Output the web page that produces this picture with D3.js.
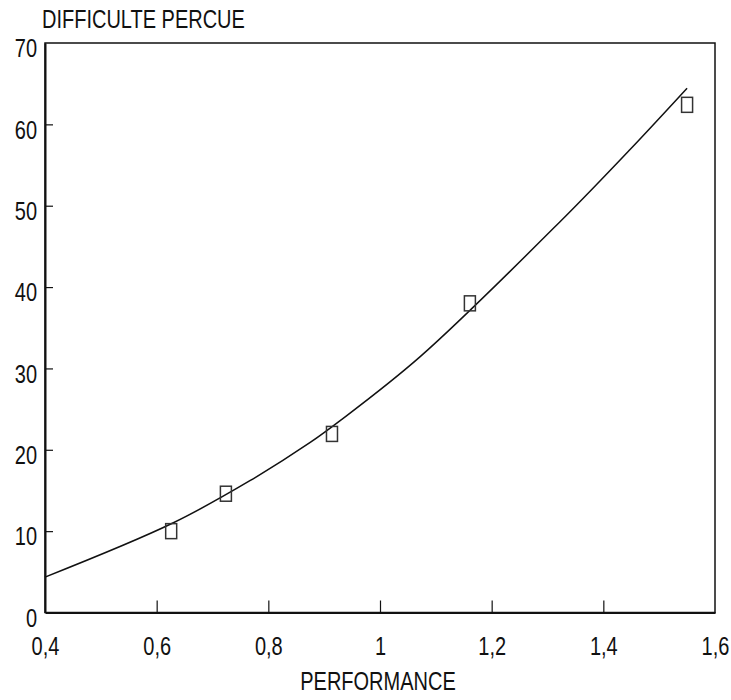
<!DOCTYPE html>
<html lang="fr">
<head>
<meta charset="UTF-8">
<title>Difficulte percue</title>
<script src="https://cdn.jsdelivr.net/npm/d3@7/dist/d3.min.js"></script>
<style>
    body { margin: 0; background: #fff; }
    text { font-family: "Liberation Sans", Arial, sans-serif; fill: #111; font-size: 25px; }
</style>
</head>
<body>
<script>
    // mesures (carres)
    const perf = [0.626, 0.724, 0.914, 1.161, 1.55];
    const diff = [10.0, 14.6, 21.95, 38.0, 62.4];

    // courbe ajustee
    const fitX = [0.40, 0.629, 0.767, 0.875, 0.928, 1.072, 1.322, 1.447, 1.55];
    const fitY = [4.35, 11.0, 16.2, 20.9, 23.55, 31.45, 48.0, 56.85, 64.45];

    const xTicks = [0.4, 0.6, 0.8, 1, 1.2, 1.4, 1.6];
    const yTicks = [0, 10, 20, 30, 40, 50, 60, 70];

    const width = 731, height = 700;
    const mLeft = 45, mRight = 715, mTop = 43, mBottom = 612.5;
    const sx = 0.8; // police etroite

    const svg = d3.select('body').append('svg')
        .attr('width', width)
        .attr('height', height);

    const x = d3.scaleLinear().domain([0.4, 1.6]).range([mLeft, mRight]);
    const y = d3.scaleLinear().domain([0, 70]).range([mBottom, mTop]);

    const fmt = d => String(d).replace('.', ',');

    // cadre
    svg.append('rect')
        .attr('x', mLeft).attr('y', mTop)
        .attr('width', mRight - mLeft).attr('height', mBottom - mTop)
        .attr('fill', 'none').attr('stroke', '#111').attr('stroke-width', 1.5);

    // axes avec graduations vers l'interieur
    const xAxis = d3.axisBottom(x).tickValues(xTicks).tickSize(-12).tickFormat(fmt).tickSizeOuter(0);
    const gx = svg.append('g').attr('transform', `translate(0,${mBottom})`).call(xAxis);
    gx.select('.domain').attr('stroke', '#111').attr('stroke-width', 2);
    gx.selectAll('.tick line').attr('stroke', '#111').attr('stroke-width', 1.2);
    gx.selectAll('.tick')
        .filter(d => d === 0.4 || d === 1.6).select('line').remove();
    gx.selectAll('.tick text')
        .attr('y', 43).attr('dy', 0)
        .attr('transform', `scale(${sx},1)`)
        .style('font-size', '25px');

    const yAxis = d3.axisLeft(y).tickValues(yTicks).tickSize(-8).tickFormat(fmt).tickSizeOuter(0);
    const gy = svg.append('g').attr('transform', `translate(${mLeft},0)`).call(yAxis);
    gy.select('.domain').attr('stroke', '#111').attr('stroke-width', 2);
    gy.selectAll('.tick line').attr('stroke', '#111').attr('stroke-width', 1.2);
    gy.selectAll('.tick')
        .filter(d => d === 0 || d === 70).select('line').remove();
    gy.selectAll('.tick text')
        .attr('x', -8 / sx).attr('dy', '0.55em')
        .attr('transform', `scale(${sx},1)`)
        .style('font-size', '25px');

    gx.attr('font-family', null).attr('font-size', null);
    gy.attr('font-family', null).attr('font-size', null);

    // titres
    svg.append('text')
        .attr('transform', `translate(42,28) scale(${sx},1)`)
        .text('DIFFICULTE PERCUE');

    svg.append('text')
        .attr('transform', `translate(${(mLeft + mRight) / 2 - 2},690) scale(${sx},1)`)
        .attr('text-anchor', 'middle')
        .text('PERFORMANCE');

    // courbe
    const line = d3.line()
        .x(d => x(d[0]))
        .y(d => y(d[1]))
        .curve(d3.curveCatmullRom);

    svg.append('path')
        .datum(d3.zip(fitX, fitY))
        .attr('d', line)
        .attr('fill', 'none')
        .attr('stroke', '#111')
        .attr('stroke-width', 1.5);

    // points
    svg.append('g')
        .selectAll('rect')
        .data(d3.zip(perf, diff))
        .enter()
        .append('rect')
        .attr('x', d => x(d[0]) - 5.5)
        .attr('y', d => y(d[1]) - 7.5)
        .attr('width', 11)
        .attr('height', 15)
        .attr('fill', 'none')
        .attr('stroke', '#333')
        .attr('stroke-width', 1.5);
</script>
</body>
</html>
